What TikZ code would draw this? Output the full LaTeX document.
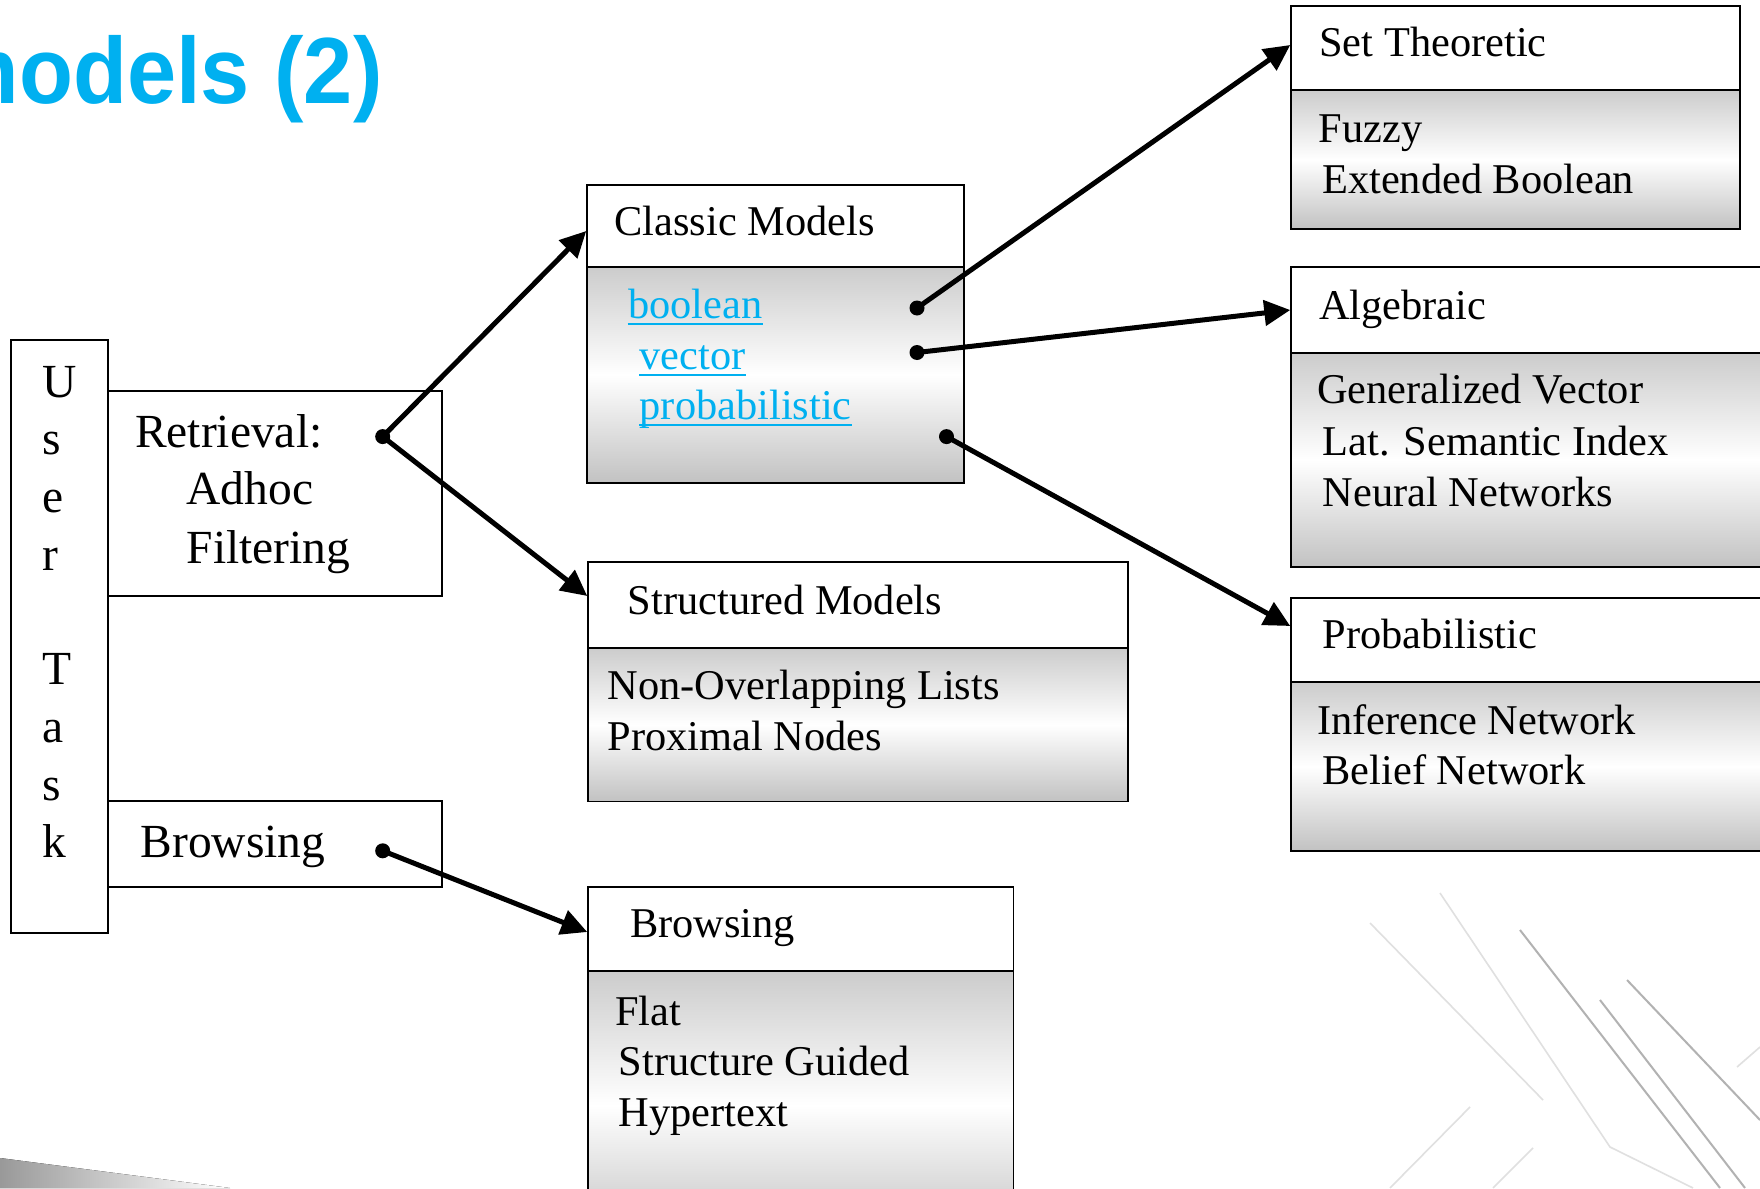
\documentclass[tikz,border=0pt]{standalone}
\usepackage{fontspec}
\setmainfont{Liberation Serif}
\newfontfamily\titlefont{Liberation Sans}
\usetikzlibrary{arrows.meta,fit,calc}
\definecolor{titleblue}{RGB}{0,176,240}
\definecolor{linkblue}{RGB}{0,176,240}
\tikzset{
  box/.style={draw=black, line width=0.75pt, inner sep=0pt},
  hdr/.style={box, fill=white},
  body/.style={box, top color=black!20, bottom color=black!24, middle color=white},
  txt/.style={anchor=base west, inner sep=0pt, font=\fontsize{21.2}{25}\selectfont},
  bigtxt/.style={anchor=base west, inner sep=0pt, font=\fontsize{23.75}{28}\selectfont},
  link/.style={txt, text=linkblue},
  uline/.style={draw=linkblue, line width=1pt},
  dot/.style={circle, fill=black, inner sep=0pt, minimum size=7.5pt},
  conn/.style={line width=2.5pt, -{Triangle[length=13pt,width=12.5pt]}},
  bgfaint/.style={draw=black!12, line width=0.8pt},
  bgdark/.style={draw=black!30, line width=1pt},
}
\begin{document}
\begin{tikzpicture}[x=0.5pt,y=-0.5pt]
\useasboundingbox (0,0) rectangle (1760,1188);
\clip (0,0) rectangle (1760,1188);
\fill[white] (0,0) rectangle (1760,1188);
% faint background strokes (slide backdrop)
\draw[bgfaint] (1370,923) -- (1543,1100);
\draw[bgfaint] (1440,893) -- (1610,1147) -- (1693,1188);
\draw[bgdark] (1520,930) -- (1720,1188);
\draw[bgdark] (1627,980) -- (1760,1120);
\draw[bgdark] (1600,1000) -- (1745,1188);
\draw[bgfaint] (1737,1067) -- (1760,1047);
\draw[bgfaint] (1470,1107) -- (1390,1188);
\draw[bgfaint] (1533,1148) -- (1493,1188);
\fill[left color=black!40, right color=white] (0,1158) -- (230,1188) -- (0,1188) -- cycle;
% title
\node[anchor=base east, inner sep=0pt, font=\titlefont\bfseries\fontsize{47}{52}\selectfont, text=titleblue] (title) at (383,103.3) {\scalebox{0.94}[1]{models (2)}};
% left boxes
\node[box, fit={(11,340) (108,933)}] (user) {};
\node[box, fit={(108,391) (442,596)}] (ret) {};
\node[box, fit={(108,801) (442,887)}] (brl) {};
\node[bigtxt] (u1) at (42,397) {U};
\node[bigtxt] (u2) at (42,454.6) {s};
\node[bigtxt] (u3) at (42,512) {e};
\node[bigtxt] (u4) at (42,570) {r};
\node[bigtxt] (u5) at (42,684.7) {T};
\node[bigtxt] (u6) at (42,742) {a};
\node[bigtxt] (u7) at (42,800.5) {s};
\node[bigtxt] (u8) at (42,857.9) {k};
\node[bigtxt] (r1) at (134.7,447.4) {Retrieval:};
\node[bigtxt] (r2) at (186.3,504.8) {Adhoc};
\node[bigtxt] (r3) at (186.3,563.3) {Filtering};
\node[bigtxt] (b0) at (140.3,857.9) {Browsing};
% classic models
\node[body, fit={(587,267) (964,483)}] (cmB) {};
\node[hdr, fit={(587,185) (964,267)}] (cmH) {};
\node[txt] (cmT) at (614,235.7) {Classic Models};
\node[link] (lb) at (627.7,318.3) {boolean};
\node[link] (lv) at (639.3,369.3) {vector};
\node[link] (lp) at (639.3,419.3) {probabilistic};
\foreach \n in {lb,lv,lp}
  \draw[uline] ([yshift=-2.6pt]\n.base west) -- ([yshift=-2.6pt]\n.base east);
% structured models
\node[body, fit={(588,648) (1128,801.5)}] (smB) {};
\node[hdr, fit={(588,562) (1128,648)}] (smH) {};
\node[txt] (smT) at (627.4,614.5) {Structured Models};
\node[txt] (sm1) at (607.2,699) {Non-Overlapping Lists};
\node[txt] (sm2) at (607.2,750) {Proximal Nodes};
% browsing
\node[body, fit={(588,971) (1013.5,1240)}] (brB) {};
\node[hdr, fit={(588,887) (1013.5,971)}] (brH) {};
\node[txt] (brT) at (629.7,937.5) {Browsing};
\node[txt] (br1) at (615,1025) {Flat};
\node[txt] (br2) at (618.5,1075.8) {Structure Guided};
\node[txt] (br3) at (618.5,1126.6) {Hypertext};
% set theoretic
\node[body, fit={(1291,90) (1740,229)}] (stB) {};
\node[hdr, fit={(1291,6) (1740,90)}] (stH) {};
\node[txt] (stT) at (1319,57) {Set Theoretic};
\node[txt] (st1) at (1318.3,142.5) {Fuzzy};
\node[txt] (st2) at (1321.7,193.5) {Extended Boolean};
% algebraic
\node[body, fit={(1291,353) (1830,567)}] (alB) {};
\node[hdr, fit={(1291,267) (1830,353)}] (alH) {};
\node[txt] (alT) at (1318.8,319.2) {Algebraic};
\node[txt] (al1) at (1316.6,403.5) {Generalized Vector};
\node[txt] (al2) at (1322.2,455) {Lat. Semantic Index};
\node[txt] (al3) at (1322.2,506) {Neural Networks};
% probabilistic
\node[body, fit={(1291,682) (1830,851)}] (prB) {};
\node[hdr, fit={(1291,598) (1830,682)}] (prH) {};
\node[txt] (prT) at (1322.2,648) {Probabilistic};
\node[txt] (pr1) at (1316.6,734.4) {Inference Network};
\node[txt] (pr2) at (1322.2,784.5) {Belief Network};
% dots
\node[dot] (dRet) at (382.7,436.6) {};
\node[dot] (dBro) at (382.7,850.8) {};
\node[dot] (dBool) at (917,308) {};
\node[dot] (dVec) at (917,352.5) {};
\node[dot] (dProb) at (946.5,436.6) {};
% connectors
\draw[conn] (dRet.center) -- ($(cmH.west)+(0,5)$);
\draw[conn] (dRet.center) -- ($(smH.west)+(0,-9)$);
\draw[conn] (dBro.center) -- ($(brH.west)+(0,3)$);
\draw[conn] (dBool.center) -- ($(stH.west)+(0,-3)$);
\draw[conn] (dVec.center) -- (alH.west);
\draw[conn] (dProb.center) -- ($(prH.west)+(0,-14)$);
\end{tikzpicture}
\end{document}
